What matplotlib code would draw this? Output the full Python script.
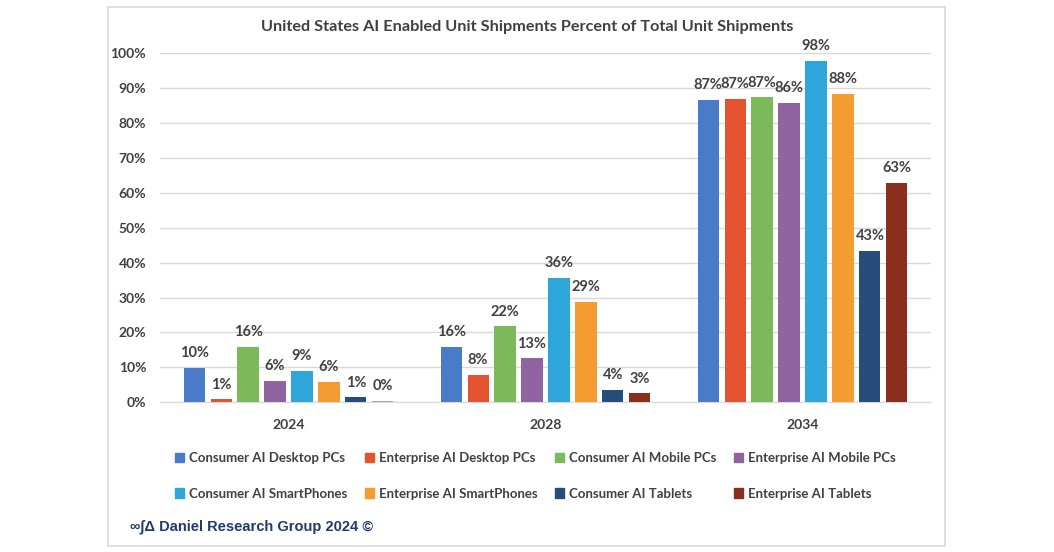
import matplotlib.pyplot as plt
import numpy as np
from matplotlib.patches import Rectangle, Patch

# data
years = ['2024', '2028', '2034']
series = ['Consumer AI Desktop PCs', 'Enterprise AI Desktop PCs',
          'Consumer AI Mobile PCs', 'Enterprise AI Mobile PCs',
          'Consumer AI SmartPhones', 'Enterprise AI SmartPhones',
          'Consumer AI Tablets', 'Enterprise AI Tablets']
consumer_desktop = [9.8, 15.8, 86.6]
enterprise_desktop = [0.9, 7.8, 86.8]
consumer_mobile = [15.8, 21.8, 87.3]
enterprise_mobile = [6.2, 12.6, 85.8]
consumer_phones = [9.0, 35.6, 97.7]
enterprise_phones = [5.8, 28.7, 88.3]
consumer_tablets = [1.4, 3.6, 43.4]
enterprise_tablets = [0.4, 2.6, 62.8]

values = [consumer_desktop, enterprise_desktop, consumer_mobile, enterprise_mobile,
          consumer_phones, enterprise_phones, consumer_tablets, enterprise_tablets]
colors = ['#4a7bc8', '#e4532f', '#7cb95b', '#8f64a0',
          '#2fa6d9', '#f49c31', '#284d7d', '#8a2f1c']

txt = '#404040'
plt.rcParams['font.family'] = ['Lato', 'DejaVu Sans']

fig = plt.figure(figsize=(10.54, 5.52), dpi=100)
fig.patches.append(Rectangle((108 / 1054, 1 - 546 / 552), 837 / 1054, 539 / 552,
                             transform=fig.transFigure, fill=False,
                             edgecolor='#d9d9d9', linewidth=1.2))

ax = fig.add_axes([160 / 1054, 1 - 402.3 / 552, 771 / 1054, 349.3 / 552])

x = np.arange(len(years))
slot = 0.105
width = 0.082
for i, (name, vals, c) in enumerate(zip(series, values, colors)):
    pos = x + (i - 3.5) * slot
    bar_colors = [c] * len(vals)
    if name == 'Enterprise AI Tablets':
        bar_colors[0] = '#a6a6a6'  # 2024 bar is grey in the original
    bars = ax.bar(pos, vals, width, color=bar_colors, label=name, zorder=3)
    for b, v in zip(bars, vals):
        ax.annotate('%.0f%%' % v, (b.get_x() + b.get_width() / 2, v),
                    xytext=(0, 5.5), textcoords='offset points', ha='center',
                    va='bottom', fontsize=10.5, fontweight='bold', color=txt)

ax.set_xlim(-0.5, 2.5)
ax.set_ylim(0, 100)
ax.set_yticks(np.arange(0, 101, 10))
ax.set_yticklabels(['%d%%' % t for t in range(0, 101, 10)])
ax.set_xticks(x)
ax.set_xticklabels(years)
ax.tick_params(length=0, labelsize=10, labelcolor=txt)
ax.tick_params(axis='y', pad=10)
ax.tick_params(axis='x', pad=12)
for lab in ax.get_xticklabels() + ax.get_yticklabels():
    lab.set_fontweight('bold')
ax.grid(axis='y', color='#d9d9d9', linewidth=1, zorder=0)
for s in ['top', 'right', 'left']:
    ax.spines[s].set_visible(False)
ax.spines['bottom'].set_color('#d9d9d9')

fig.text(527 / 1054, 1 - 27 / 552,
         'United States AI Enabled Unit Shipments Percent of Total Unit Shipments',
         ha='center', va='center', fontsize=11.7, fontweight='bold', color=txt)

# legend laid out row by row like the original
order = [0, 4, 1, 5, 2, 6, 3, 7]
handles = [Patch(color=colors[i]) for i in order]
labels = [series[i] for i in order]
leg = fig.legend(handles, labels, ncol=4, loc='center left',
                 bbox_to_anchor=(163 / 1054, 1 - 476 / 552), frameon=False,
                 fontsize=9.5, handlelength=0.7, handleheight=0.7,
                 handletextpad=0.35, columnspacing=1.35, labelspacing=1.75)
for t in leg.get_texts():
    t.set_fontweight('bold')
    t.set_color(txt)

fig.text(130 / 1054, 1 - 527 / 552, '\u221e\u222b\u0394 Daniel Research Group 2024 \u00a9',
         ha='left', va='center', fontsize=10.5, fontweight='bold', color='#1f3a6e',
         family=['Liberation Sans', 'DejaVu Sans'])

fig.savefig('out.png', dpi=100, facecolor='white')
